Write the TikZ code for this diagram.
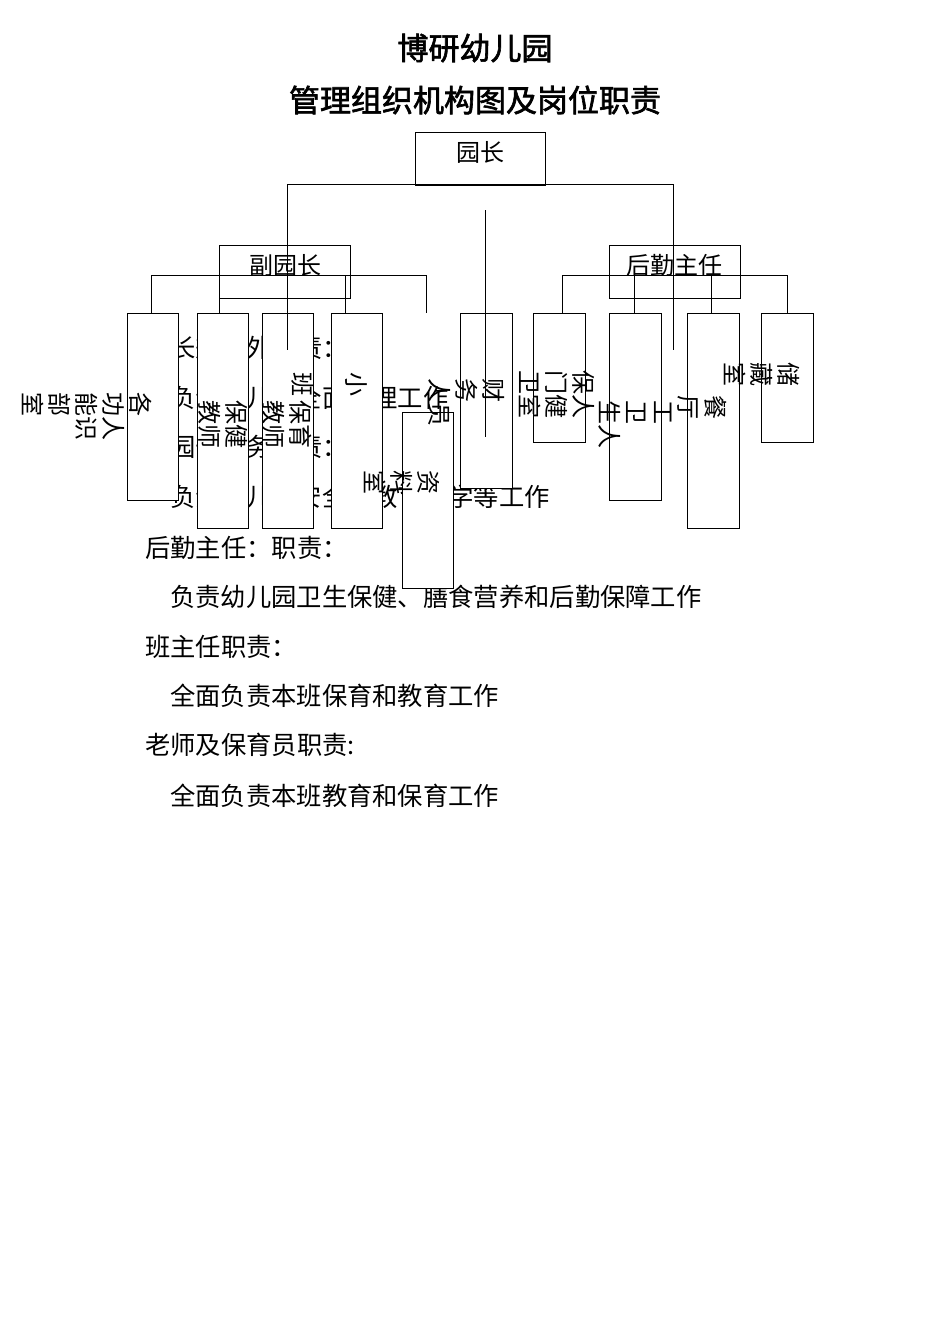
\documentclass[tikz,border=0pt]{standalone}
\usepackage{fontspec}
\setmainfont{Noto Sans CJK SC}
\newfontfamily\cjkbold[FakeBold=2]{Noto Sans CJK SC}
\begin{document}
\begin{tikzpicture}[x=1pt,y=-1pt,
  bx/.style={draw,line width=0.8pt,fill=white},
  ln/.style={line width=0.8pt},
  body/.style={anchor=west,inner sep=0,font=\fontsize{25.3}{27}\selectfont},
  vt/.style={rotate=-90,anchor=north west,align=left,inner sep=0,font=\fontsize{24}{27}\selectfont},
  htext/.style={inner sep=0,font=\fontsize{24}{26}\selectfont}]
\useasboundingbox (0,0) rectangle (950,1344);
\node[inner sep=0,font=\cjkbold\fontsize{31}{33}\selectfont] (t1) at (475,48) {博研幼儿园};
\node[inner sep=0,font=\cjkbold\fontsize{31}{33}\selectfont] (t2) at (475,100) {管理组织机构图及岗位职责};
% background text
\node[body] (l1) at (145,348) {园长兼涉外职责：};
\node[body] (l2) at (170,398) {负责幼儿园全面管理工作};
\node[body] (l3) at (145,447) {副园长业务职责：};
\node[body] (l4) at (170,497) {负责幼儿园安全、教育教学等工作};
\node[body] (l5) at (145,548) {后勤主任：职责：};
\node[body] (l6) at (170,597) {负责幼儿园卫生保健、膳食营养和后勤保障工作};
\node[body] (l7) at (145,647) {班主任职责：};
\node[body] (l8) at (170,696) {全面负责本班保育和教育工作};
\node[body] (l9) at (145,745) {老师及保育员职责:};
\node[body] (l10) at (170,796) {全面负责本班教育和保育工作};
% top boxes
\draw[bx] (415,132) rectangle (545,185);
\node[htext] (yz) at (480,152) {园长};
\draw[bx] (219,245) rectangle (350,298);
\node[htext] (fyz) at (285,265) {副园长};
\draw[bx] (609,245) rectangle (740,298);
\node[htext] (hq) at (674,265) {后勤主任};
% lower boxes
\draw[bx] (127,313) rectangle (178,500);
\draw[bx] (197,313) rectangle (248,528);
\draw[bx] (262,313) rectangle (313,528);
\draw[bx] (331,313) rectangle (382,528);
\draw[bx] (460,313) rectangle (512,488);
\draw[bx] (402,412) rectangle (453,588);
\draw[bx] (533,313) rectangle (585,442);
\draw[bx] (609,313) rectangle (661,500);
\draw[bx] (687,313) rectangle (739,528);
\draw[bx] (761,313) rectangle (813,442);
% rotated texts
\node[vt] (b1) at (152,392) {各\\功人\\能识\\部\\室};
\node[vt] (b2) at (248,400) {保健\\教师};
\node[vt] (b3) at (312,400) {保育\\教师};
\node[vt] (b4) at (368,372) {小\\\\班};
\node[vt] (b5) at (440,470) {资\\料\\室};
\node[vt] (b6) at (505,378) {财\\务\\人员};
\node[vt] (b7) at (595,370) {保人\\门健\\卫室};
\node[vt] (b8) at (672,400) {工\\卫\\生人};
\node[vt] (b9) at (727,395) {餐\\厅};
\node[vt] (b10) at (800,362) {储\\藏\\室};
% connectors
\coordinate (a1) at (287,350); \coordinate (a2) at (673,350);
\draw[ln] (287,184) -- (673,184);
\draw[ln] (287,184) -- (a1);
\draw[ln] (673,184) -- (a2);
\coordinate (m1) at (485,210); \coordinate (m2) at (485,437);
\draw[ln] (m1) -- (m2);
\draw[ln] (151,313) -- (151,275) -- (426,275) -- (426,313);
\draw[ln] (219,275) -- (219,313);
\draw[ln] (345,275) -- (345,313);
\draw[ln] (562,313) -- (562,275) -- (787,275) -- (787,313);
\draw[ln] (634,275) -- (634,313);
\draw[ln] (711,275) -- (711,313);
\end{tikzpicture}
\end{document}
